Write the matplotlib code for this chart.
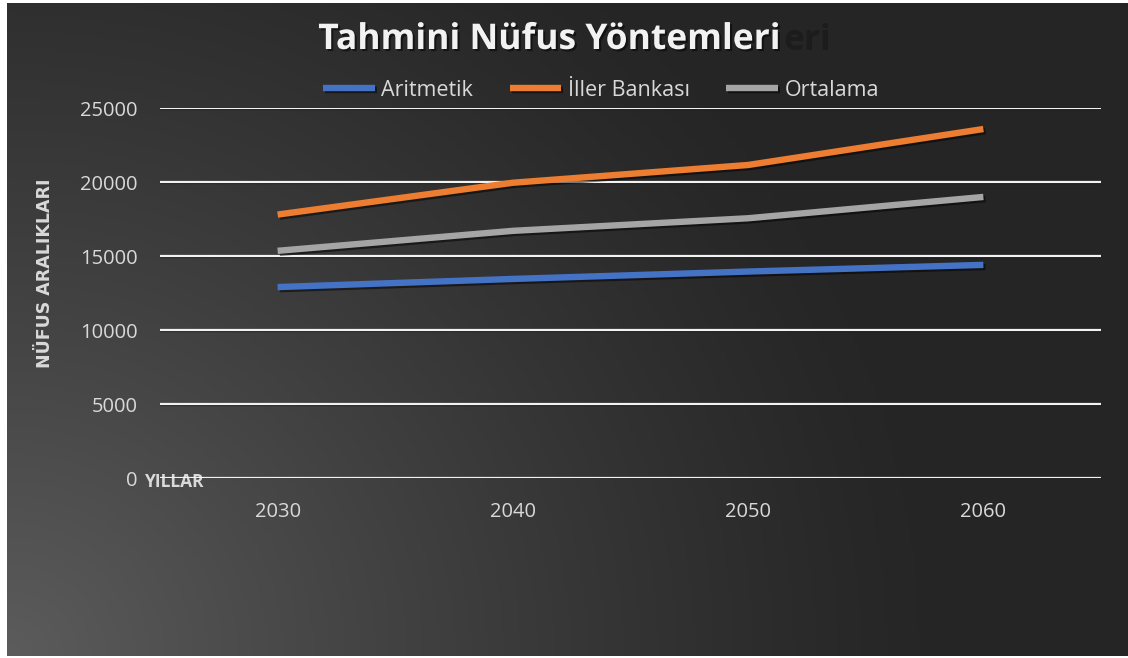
import numpy as np
import matplotlib.pyplot as plt
import matplotlib.patheffects as pe

# Chart data
years = ["2030", "2040", "2050", "2060"]
aritmetik = [12900, 13450, 13950, 14400]
iller_bankasi = [17800, 19950, 21150, 23580]
ortalama = [15350, 16700, 17550, 18990]

series_names = ["Aritmetik", "İller Bankası", "Ortalama"]
series_colors = ["#4472C4", "#ED7D31", "#A5A5A5"]

plt.rcParams['font.family'] = ['Open Sans', 'DejaVu Sans']

W, H = 1128, 658
fig = plt.figure(figsize=(W / 100, H / 100), dpi=100)
fig.patch.set_facecolor("white")

# Background panel with radial glow at the bottom left
bg = fig.add_axes([7 / W, 2 / H, (W - 7) / W, (H - 5) / H])
bg.set_axis_off()
yy, xx = np.mgrid[0:200, 0:340]
dist = np.sqrt((xx / 340.0 * 1.6) ** 2 + ((199 - yy) / 200.0) ** 2)
glow = np.clip(1 - dist / 1.3, 0, 1) ** 1.2
base = 0.149 + (0.36 - 0.149) * glow
img = np.dstack([base, base, base])
bg.imshow(img, aspect="auto", extent=[0, 1, 0, 1], origin="upper")
bg.set_xlim(0, 1)
bg.set_ylim(0, 1)

# Plot area (pixels: x 160..1101, y 108..478)
ax = fig.add_axes([160 / W, 1 - 478 / H, (1101 - 160) / W, (478 - 108) / H])
ax.set_facecolor("none")
for s in ax.spines.values():
    s.set_visible(False)

ax.set_ylim(0, 25000)
ax.set_xlim(-0.5, 3.5)
ax.set_yticks([0, 5000, 10000, 15000, 20000, 25000])
ax.set_xticks(range(len(years)))
ax.set_xticklabels(years)
ax.tick_params(axis="both", length=0, colors="#d9d9d9", labelsize=14.5)
ax.tick_params(axis="y", pad=16)
ax.tick_params(axis="x", pad=17)

# Axis title sits under the zero gridline
ax.text(145 / W, 1 - 482 / H, "YILLAR", transform=fig.transFigure, ha="left", va="center",
        fontsize=12.5, fontweight="bold", color="#d9d9d9", zorder=0, clip_on=False)

grid_shadow = [pe.SimpleLineShadow(offset=(0.6, -0.6), shadow_color="black", alpha=0.6), pe.Normal()]
for v in ax.get_yticks():
    ax.axhline(v, color="#f2f2f2", lw=1.6, zorder=1, path_effects=grid_shadow)

x = np.arange(len(years))
line_shadow = [pe.SimpleLineShadow(offset=(1.5, -1.5), shadow_color="black", alpha=0.5), pe.Normal()]
for vals, name, col in zip([aritmetik, iller_bankasi, ortalama], series_names, series_colors):
    ax.plot(x, vals, color=col, lw=4.6, label=name, zorder=3,
            solid_capstyle="butt", path_effects=line_shadow)

leg = fig.legend(loc="center", bbox_to_anchor=(601 / W, 1 - 90 / H), ncol=3,
                 frameon=False, fontsize=15.5, handlelength=2.4, handletextpad=0.3,
                 columnspacing=1.7, labelcolor="#d9d9d9")
for h in leg.get_lines():
    h.set_linewidth(4.6)

# Title, with the dark ghost tail that peeks out on its right
fig.text(549 / W, 1 - 40 / H, "Tahmini Nüfus Yöntemleri", ha="center", va="center",
         fontsize=25.5, fontweight="bold", color="#f2f2f2",
         path_effects=[pe.withSimplePatchShadow(offset=(1.5, -1.5), shadow_rgbFace="black", alpha=0.5)])
fig.text(783 / W, 1 - 41 / H, "eri", ha="left", va="center",
         fontsize=25.5, fontweight="bold", color="#1c1c1c")

fig.text(45 / W, 1 - 273 / H, "NÜFUS ARALIKLARI", rotation=90, ha="center", va="center",
         fontsize=12.5, fontweight="bold", color="#d9d9d9", family=["DejaVu Sans"])

fig.savefig("out.png", dpi=100, facecolor=fig.get_facecolor())
